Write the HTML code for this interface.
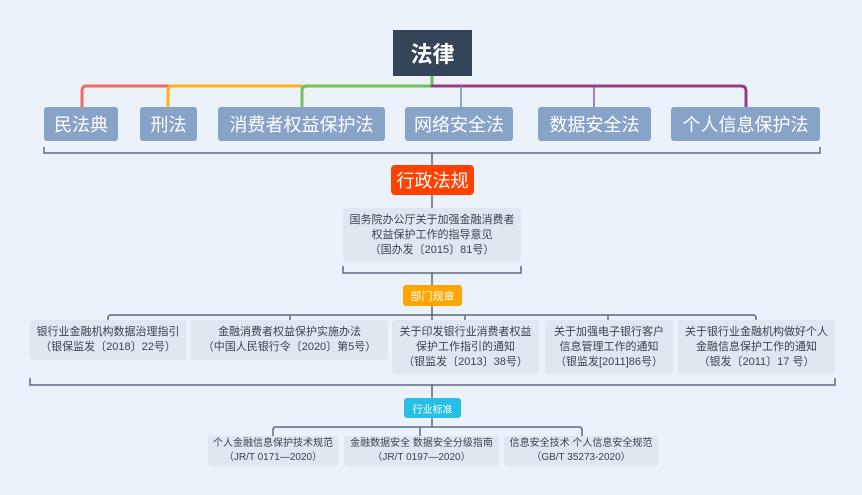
<!DOCTYPE html>
<html><head><meta charset="utf-8"><style>
body{margin:0;width:862px;height:495px;background:#ebf2f9;position:relative;overflow:hidden;font-family:"Liberation Sans","Noto Sans CJK SC",sans-serif}
.b{position:absolute;display:flex;align-items:center;justify-content:center;text-align:center;box-sizing:border-box}
.l1{background:#88a3c8;color:#fff;font-size:18px;border-radius:3px;top:107px;height:34px}
.d{background:#e0e7ef;color:#3a4350;font-size:11px;line-height:15px;border-radius:3px}
</style></head><body>
<svg width="862" height="495" style="position:absolute;left:0;top:0" fill="none">
<g stroke-width="4" stroke-linecap="round">
<path d="M82 107 V91 Q82 86 87 86 H168" stroke="#f26b5b" stroke-width="3"/>
<path d="M168 107 V91 Q168 86 173 86 H302" stroke="#fdb515" stroke-width="3"/>
<path d="M302 107 V91 Q302 86 307 86 H432 V76" stroke="#72c05b" stroke-width="3"/>
<path d="M432 86 H741 Q746 86 746 91 V107" stroke="#943d86" stroke-width="3"/>
<path d="M594 86 V107" stroke="#7a5ca8" stroke-width="1.5"/>
<path d="M461 86 V107" stroke="#6b8cc8" stroke-width="1.5"/>
</g>
<g stroke="#5d6b7d" stroke-width="1.5">
<path d="M44 147 V153 H820 V147"/>
<path d="M432 153 V165 M432 195 V208"/>
<path d="M343 266 V273 H521 V266 M432 273 V286 M432 306 V320"/>
<path d="M108 320 V318 Q108 315 111 315 H753 Q756 315 756 318 V320 M290 315 V320 M465 315 V320 M608 315 V320"/>
<path d="M30 378 V385 H835 V378 M432 385 V398 M432 418 V427"/>
<path d="M273 436 V430 Q273 427 276 427 H579 Q582 427 582 430 V436 M420 427 V436"/>
</g>
</svg>
<div class="b" style="left:393px;top:30px;width:79px;height:46px;background:#344459;color:#fff;font-size:22px;font-weight:bold">法律</div>
<div class="b l1" style="left:44px;width:74px">民法典</div>
<div class="b l1" style="left:140px;width:57px">刑法</div>
<div class="b l1" style="left:218px;width:167px">消费者权益保护法</div>
<div class="b l1" style="left:405px;width:108px">网络安全法</div>
<div class="b l1" style="left:538px;width:113px">数据安全法</div>
<div class="b l1" style="left:671px;width:149px">个人信息保护法</div>
<div class="b" style="left:391px;top:165px;width:83px;height:30px;background:#ff4200;color:#fff;font-size:18px;border-radius:4px">行政法规</div>
<div class="b d" style="left:343px;top:208px;width:178px;height:54px">国务院办公厅关于加强金融消费者<br>权益保护工作的指导意见<br>（国办发〔2015〕81号）</div>
<div class="b" style="left:403px;top:285px;width:59px;height:21px;background:#ffa500;color:#fff;font-size:11px;border-radius:3px">部门规章</div>
<div class="b d" style="left:30px;top:320px;width:156px;height:40px">银行业金融机构数据治理指引<br>（银保监发〔2018〕22号）</div>
<div class="b d" style="left:191px;top:320px;width:197px;height:40px">金融消费者权益保护实施办法<br>（中国人民银行令〔2020〕第5号）</div>
<div class="b d" style="left:392px;top:320px;width:147px;height:54px">关于印发银行业消费者权益<br>保护工作指引的通知<br>（银监发〔2013〕38号）</div>
<div class="b d" style="left:545px;top:320px;width:128px;height:54px">关于加强电子银行客户<br>信息管理工作的通知<br>（银监发[2011]86号）</div>
<div class="b d" style="left:678px;top:320px;width:157px;height:54px">关于银行业金融机构做好个人<br>金融信息保护工作的通知<br>（银发〔2011〕17 号）</div>
<div class="b" style="left:404px;top:398px;width:57px;height:20px;background:#27bfe3;color:#fff;font-size:10px;border-radius:3px">行业标准</div>
<div class="b d" style="left:208px;top:436px;width:130px;height:30px;font-size:10px;line-height:14px">个人金融信息保护技术规范<br>（JR/T 0171—2020）</div>
<div class="b d" style="left:344px;top:436px;width:155px;height:30px;font-size:10px;line-height:14px">金融数据安全 数据安全分级指南<br>（JR/T 0197—2020）</div>
<div class="b d" style="left:504px;top:436px;width:154px;height:30px;font-size:10px;line-height:14px">信息安全技术 个人信息安全规范<br>（GB/T 35273-2020）</div>
</body></html>
